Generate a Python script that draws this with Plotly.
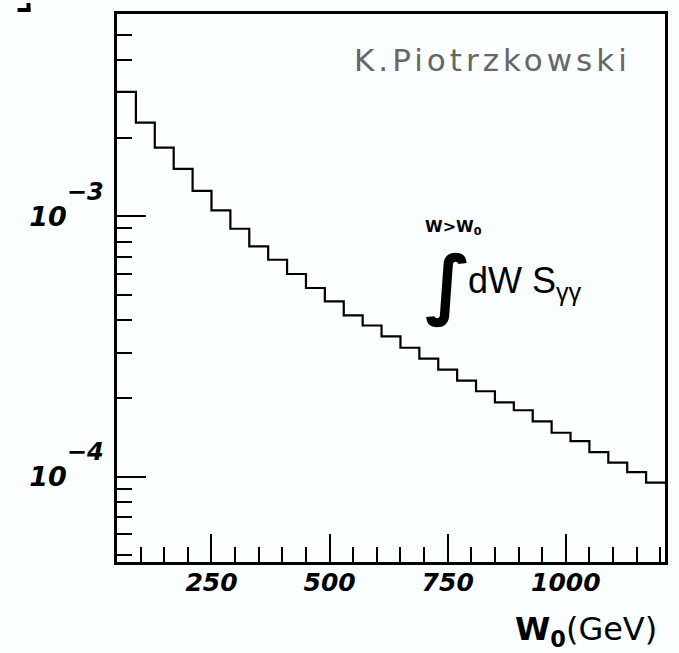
import math
import plotly.graph_objects as go

# Histogram bin edges (GeV) and contents
bin_edges = [50, 90, 130, 170, 210, 250, 290, 330, 370, 410, 450, 490, 530, 570,
             610, 650, 690, 730, 770, 810, 850, 890, 930, 970, 1010, 1050, 1090,
             1130, 1170, 1210]
bin_values = [3.01e-3, 2.295e-3, 1.84e-3, 1.524e-3, 1.255e-3, 1.056e-3, 8.97e-4,
              7.67e-4, 6.82e-4, 6.01e-4, 5.31e-4, 4.72e-4, 4.17e-4, 3.81e-4,
              3.46e-4, 3.13e-4, 2.84e-4, 2.58e-4, 2.34e-4, 2.13e-4, 1.93e-4,
              1.80e-4, 1.63e-4, 1.475e-4, 1.37e-4, 1.243e-4, 1.132e-4, 1.041e-4,
              9.48e-5]

x_major_ticks = [250, 500, 750, 1000]
x_major_labels = ["250", "500", "750", "1000"]
x_minor_ticks = [100, 150, 200, 300, 350, 400, 450, 550, 600, 650, 700, 800, 850,
                 900, 950, 1050, 1100, 1150, 1200]
y_major_ticks = [1e-4, 1e-3]
y_exponents = ["−4", "−3"]
y_minor_ticks = [5e-5, 6e-5, 7e-5, 8e-5, 9e-5, 2e-4, 3e-4, 4e-4, 5e-4, 6e-4, 7e-4,
                 8e-4, 9e-4, 2e-3, 3e-3, 4e-3, 5e-3]

x_range = [50, 1210]
y_range_vals = [4.7e-5, 6e-3]

y_major_labels = ['10<sup><span style="font-size:24px;baseline-shift:15px">%s</span></sup>' % e
                  for e in y_exponents]

step_x = bin_edges
step_y = bin_values + [bin_values[-1]]

fig = go.Figure()
fig.add_trace(go.Scatter(x=step_x, y=step_y, mode="lines",
                         line=dict(shape="hv", color="black", width=2.2),
                         showlegend=False, hoverinfo="skip"))

W, H = 679, 653
L, R, T, B = 117, 11, 14, 91
pw, ph = W - L - R, H - T - B


def px(x):
    return (x - L) / pw


def py(y):
    return (H - B - y) / ph


tickfont = dict(family="DejaVu Sans", size=25, color="black", weight="bold",
                style="italic")
ytickfont = dict(family="DejaVu Sans", size=27, color="black", weight="bold",
                 style="italic")

fig.update_layout(
    width=W, height=H,
    margin=dict(l=L, r=R, t=T, b=B, pad=0),
    paper_bgcolor="#fafefe", plot_bgcolor="#fafefe",
    xaxis=dict(range=x_range, showgrid=False, zeroline=False,
               showline=True, linecolor="black", linewidth=3, mirror=True,
               ticks="inside", ticklen=28, tickwidth=2, tickcolor="black",
               tickmode="array", tickvals=x_major_ticks, ticktext=x_major_labels,
               tickfont=tickfont, ticklabelstandoff=-4,
               minor=dict(tickmode="array", tickvals=x_minor_ticks, ticks="inside",
                          ticklen=15, tickwidth=2, tickcolor="black", showgrid=False)),
    yaxis=dict(type="log", range=[math.log10(v) for v in y_range_vals],
               showgrid=False, zeroline=False,
               showline=True, linecolor="black", linewidth=3, mirror=True,
               ticks="inside", ticklen=29, tickwidth=2, tickcolor="black",
               tickmode="array", tickvals=y_major_ticks, ticktext=y_major_labels,
               tickfont=ytickfont, ticklabelstandoff=5,
               minor=dict(tickmode="array", tickvals=y_minor_ticks, ticks="inside",
                          ticklen=15, tickwidth=2, tickcolor="black", showgrid=False)),
)

annotations = [
    dict(text='<span style="letter-spacing:4px">K.Piotrzkowski</span>',
         x=px(495), y=py(60), font=dict(family="DejaVu Sans", size=31, color="#666666")),
    dict(text="<b>W>W<sub>0</sub></b>", x=px(455), y=py(227),
         font=dict(family="DejaVu Sans", size=16, color="black")),
    dict(text="<b><i>∫</i></b>", x=px(450), y=py(283),
         font=dict(family="DejaVu Sans", size=76, color="black")),
    dict(text="dW S<sub>γγ</sub>", x=px(468), y=py(283), xanchor="left",
         font=dict(family="Liberation Sans", size=36, color="black")),
    dict(text="<b>W<sub>0</sub></b>(GeV)", x=px(662), y=py(631), xanchor="right",
         font=dict(family="DejaVu Sans", size=32, color="black")),
]
for a in annotations:
    a.setdefault("xanchor", "center")
    a.update(xref="paper", yref="paper", showarrow=False, yanchor="middle")
    fig.add_annotation(**a)

# small corner mark seen at the top-left of the reference image
fig.add_shape(type="path", xref="paper", yref="paper",
              path="M %f %f L %f %f L %f %f L %f %f Z" % (px(17), py(8), px(30), py(8),
                                                          px(30), py(12), px(17), py(12)),
              fillcolor="black", line=dict(width=0))
fig.add_shape(type="path", xref="paper", yref="paper",
              path="M %f %f L %f %f L %f %f L %f %f Z" % (px(26), py(3), px(30), py(3),
                                                          px(30), py(12), px(26), py(12)),
              fillcolor="black", line=dict(width=0))

fig.write_html("out.html")
